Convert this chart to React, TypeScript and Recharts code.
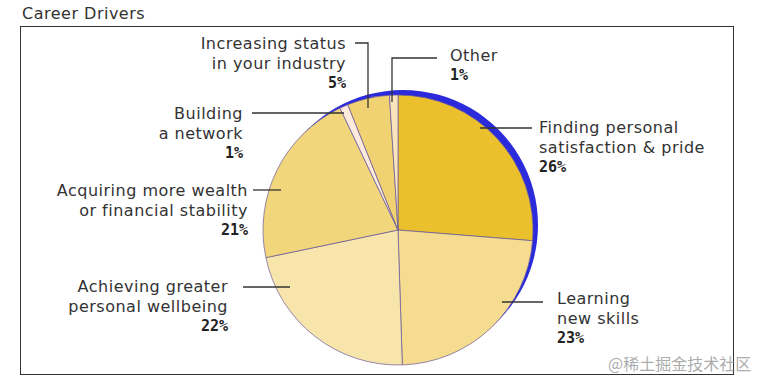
import { Cell, Pie, PieChart } from "recharts";

const categories = [
  "Finding personal|satisfaction & pride",
  "Learning|new skills",
  "Achieving greater|personal wellbeing",
  "Acquiring more wealth|or financial stability",
  "Building|a network",
  "Increasing status|in your industry",
  "Other",
];
const shares = [26, 23, 22, 21, 1, 5, 1];
const sliceColors = [
  "#EBC02D",
  "#F5DC8F",
  "#F7E5AC",
  "#F2D67C",
  "#FCEBDD",
  "#F1D272",
  "#F9E4BC",
];

const data = categories.map((name, i) => ({ name, value: shares[i] }));

// label placement: text anchor point + leader polyline (page px)
const labelLayout = [
  { x: 539, y: 127, anchor: "start", leader: [[532, 128], [480, 128]] },
  { x: 557, y: 298, anchor: "start", leader: [[543, 302], [502, 302]] },
  { x: 228, y: 286, anchor: "end", leader: [[243, 287], [290, 287]] },
  { x: 248, y: 190, anchor: "end", leader: [[253, 190], [281, 190]] },
  { x: 243, y: 113, anchor: "end", leader: [[252, 113], [344, 113]] },
  { x: 346, y: 43, anchor: "end", leader: [[355, 43], [368, 43], [368, 108]] },
  { x: 450, y: 55, anchor: "start", leader: [[437, 58], [392, 58], [392, 102]] },
];

const CX = 398;
const CY = 230;
const R = 135;
const FONT = "'DejaVu Sans', sans-serif";

function renderLabel(props: any) {
  const i = props.index;
  const l = labelLayout[i];
  const lines = categories[i].split("|");
  const pts = l.leader.map((p) => p.join(",")).join(" ");
  return (
    <g key={`lbl-${i}`}>
      <polyline points={pts} fill="none" stroke="#333" strokeWidth={1.3} />
      <text
        x={l.x}
        y={l.y}
        textAnchor={l.anchor as any}
        dominantBaseline="central"
        fontFamily={FONT}
        fontSize={16}
        letterSpacing={0.5}
        fill="#333"
      >
        {lines.map((ln, k) => (
          <tspan key={k} x={l.x} dy={k === 0 ? 0 : 20}>
            {ln}
          </tspan>
        ))}
        <tspan
          x={l.x}
          dy={20}
          fontWeight={700}
          fontSize={15}
          fontFamily="'DejaVu Sans Mono', monospace"
          letterSpacing={0}
          fill="#222"
        >
          {`${shares[i]}%`}
        </tspan>
      </text>
    </g>
  );
}

export default function App() {
  return (
    <div
      style={{
        position: "absolute",
        left: 0,
        top: 0,
        width: 768,
        height: 386,
        background: "#fff",
        fontFamily: FONT,
      }}
    >
      <div
        style={{
          position: "absolute",
          left: 22,
          top: 4,
          fontSize: 16,
          letterSpacing: 0.5,
          color: "#333",
        }}
      >
        Career Drivers
      </div>
      <div
        style={{
          position: "absolute",
          left: 20,
          top: 26,
          width: 712,
          height: 347,
          border: "1.5px solid #333",
        }}
      />
      <div style={{ position: "absolute", left: 0, top: 0 }}>
        <PieChart
          width={768}
          height={386}
          margin={{ top: 0, right: 0, bottom: 0, left: 0 }}
        >
          <Pie
            data={[{ name: "ring", value: 1 }]}
            dataKey="value"
            cx={CX + 5}
            cy={CY - 5}
            outerRadius={R}
            startAngle={90}
            endAngle={-270}
            stroke="none"
            fill="#2B2BDB"
            isAnimationActive={false}
          />
          <Pie
            data={data}
            dataKey="value"
            cx={CX}
            cy={CY}
            outerRadius={R}
            startAngle={90}
            endAngle={-270}
            stroke="#6A5A9A"
            strokeWidth={0.7}
            labelLine={false}
            label={renderLabel}
            isAnimationActive={false}
          >
            {data.map((d, i) => (
              <Cell key={d.name} fill={sliceColors[i]} />
            ))}
          </Pie>
        </PieChart>
      </div>
      <div
        style={{
          position: "absolute",
          left: 608,
          top: 351,
          fontSize: 16,
          color: "rgba(150,150,150,0.8)",
          fontFamily: "'Noto Sans CJK SC', sans-serif",
        }}
      >
        @稀土掘金技术社区
      </div>
    </div>
  );
}
